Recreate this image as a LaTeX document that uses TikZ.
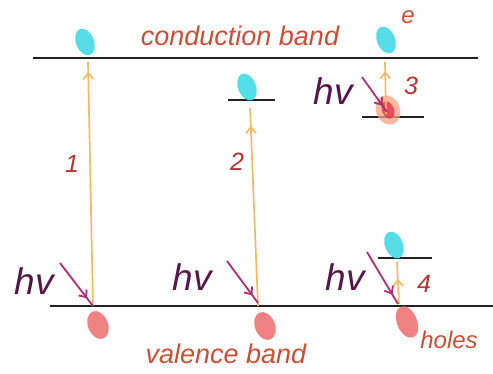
\documentclass[tikz,border=0pt]{standalone}
\usepackage{fontspec}
\setmainfont{Liberation Sans}
\usetikzlibrary{shapes.geometric,arrows.meta,decorations.markings}
\definecolor{bandline}{RGB}{35,35,35}
\definecolor{elec}{RGB}{85,222,232}
\definecolor{hole}{RGB}{240,130,130}
\definecolor{excite}{RGB}{243,185,100}
\definecolor{photon}{RGB}{178,45,112}
\definecolor{hvcol}{RGB}{88,22,72}
\definecolor{labcol}{RGB}{205,78,52}
\definecolor{numcol}{RGB}{178,52,52}
\definecolor{blobred}{RGB}{222,55,75}
\definecolor{blobglow}{RGB}{246,160,130}
\tikzset{
  band/.style={draw=bandline,line width=2.4pt},
  level/.style={draw=bandline,line width=2pt},
  electron/.style={ellipse,fill=elec,draw=none,inner sep=0pt,minimum width=18pt,minimum height=28pt,rotate=22},
  holenode/.style={ellipse,fill=hole,draw=none,inner sep=0pt,minimum width=20pt,minimum height=29pt,rotate=22},
  midtip/.style={postaction={decorate},decoration={markings,mark=at position #1 with {\arrow{Straight Barb[length=6pt,width=10pt]}}}},
  exciteline/.style={draw=excite,line width=1.7pt},
  photonline/.style={draw=photon,line width=1.8pt},
  hvtext/.style={text=hvcol,font=\fontsize{37}{37}\selectfont\itshape,inner sep=0pt},
  bandtext/.style={text=labcol,font=\fontsize{27}{27}\selectfont\itshape,inner sep=0pt},
  smalltext/.style={text=labcol,font=\fontsize{24}{24}\selectfont\itshape,inner sep=0pt},
  numtext/.style={text=numcol,font=\fontsize{25}{25}\selectfont\itshape,inner sep=0pt}
}
\begin{document}
\begin{tikzpicture}[x=1pt,y=-1pt]
\useasboundingbox (0,0) rectangle (493,373);
% bands
\coordinate (cbL) at (33,58);
\coordinate (cbR) at (478,58);
\coordinate (vbL) at (50,306);
\coordinate (vbR) at (493,306);
\draw[band] (cbL) -- (cbR);
\draw[band] (vbL) -- (vbR);
% short levels
\coordinate (l2L) at (228,100); \coordinate (l2R) at (275,100);
\coordinate (l3L) at (362,117); \coordinate (l3R) at (424,117);
\coordinate (l4L) at (378,258); \coordinate (l4R) at (432,258);
\draw[level] (l2L) -- (l2R);
\draw[level] (l3L) -- (l3R);
\draw[level] (l4L) -- (l4R);
% electrons
\node[electron] (e1) at (85,42) {};
\node[electron] (e2) at (247,87) {};
\node[electron] (e3) at (386,40) {};
\node[electron] (e4) at (394,245) {};
% holes
\node[holenode] (h1) at (98,325) {};
\node[holenode] (h2) at (265,326) {};
\node[holenode,minimum height=33pt] (h3) at (407,322) {};
% excited blob at level 3
\node[ellipse,fill=blobglow,opacity=0.75,draw=none,inner sep=0pt,minimum width=24pt,minimum height=30pt,rotate=22] (blob) at (388,110) {};
\node[ellipse,fill=blobred,opacity=0.8,draw=none,inner sep=0pt,minimum width=12pt,minimum height=18pt,rotate=22] (blobc) at (388,110) {};
% excitation arrows
\coordinate (v1) at (93,306); \coordinate (c1) at (88,62);
\coordinate (v2) at (258,306); \coordinate (c2) at (250,108);
\coordinate (v3) at (386,114); \coordinate (c3) at (385,62);
\coordinate (v4) at (399,304); \coordinate (c4) at (397,262);
\draw[exciteline,midtip=0.96] (v1) -- (c1);
\draw[exciteline,midtip=0.91] (v2) -- (c2);
\draw[exciteline,midtip=0.82] (v3) -- (c3);
\draw[exciteline,midtip=0.6] (v4) -- (c4);
% photon arrows
\coordinate (p1s) at (60,263); \coordinate (p1e) at (93,306);
\coordinate (p2s) at (227,261); \coordinate (p2e) at (258,303);
\coordinate (p3s) at (367,252); \coordinate (p3e) at (398,304);
\coordinate (p4s) at (362,77); \coordinate (p4e) at (387,112);
\draw[photonline,midtip=0.82] (p1s) -- (p1e);
\draw[photonline,midtip=0.82] (p2s) -- (p2e);
\draw[photonline,midtip=0.82] (p3s) -- (p3e);
\draw[photonline,midtip=0.82] (p4s) -- (p4e);
% hv labels
\node[hvtext] (hv1) at (34,281) {hv};
\node[hvtext] (hv2) at (192,277) {hv};
\node[hvtext] (hv3) at (345,277) {hv};
\node[hvtext] (hv4) at (333,91) {hv};
% numbers
\node[numtext] (n1) at (72,164) {1};
\node[numtext] (n2) at (237,162) {2};
\node[numtext] (n3) at (411,86) {3};
\node[numtext] (n4) at (424,284) {4};
% labels
\node[bandtext] (cb) at (240,36) {conduction band};
\node[bandtext] (vb) at (226,354) {valence band};
\node[smalltext] (holes) at (449,340) {holes};
\node[smalltext] (elab) at (408,17) {e};
\end{tikzpicture}
\end{document}
